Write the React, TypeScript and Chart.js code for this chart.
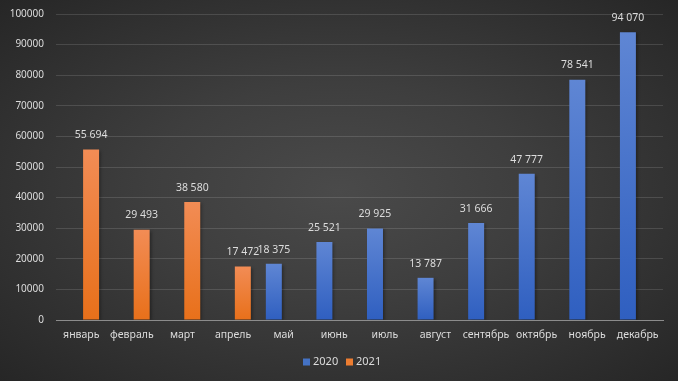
import React, { useEffect, useRef } from "react";
import { Chart, registerables } from "chart.js";

Chart.register(...registerables);

const categories = ["январь", "февраль", "март", "апрель", "май", "июнь", "июль", "август", "сентябрь", "октябрь", "ноябрь", "декабрь"];
const series2020: (number | null)[] = [null, null, null, null, 18375, 25521, 29925, 13787, 31666, 47777, 78541, 94070];
const series2021: (number | null)[] = [55694, 29493, 38580, 17472, null, null, null, null, null, null, null, null];
const yTicks = [0, 10000, 20000, 30000, 40000, 50000, 60000, 70000, 80000, 90000, 100000];

const TEXT = "#dcdcdc";
const FONT = "'Noto Sans', 'DejaVu Sans', sans-serif";

function fmt(v: number) {
  return String(v).replace(/\B(?=(\d{3})+(?!\d))/g, " ");
}

function gradFor(top: string, bottom: string) {
  return (ctx: any) => {
    const chart = ctx.chart;
    const area = chart.chartArea;
    const v = ctx.raw;
    if (!area || v == null) return bottom;
    const ys = chart.scales.y;
    const y1 = ys.getPixelForValue(v);
    const y0 = ys.getPixelForValue(0);
    if (!isFinite(y1) || !isFinite(y0) || y1 === y0) return bottom;
    const g = chart.ctx.createLinearGradient(0, y1, 0, y0);
    g.addColorStop(0, top);
    g.addColorStop(1, bottom);
    return g;
  };
}

const labelsPlugin = {
  id: "valueLabels",
  afterDatasetsDraw(chart: any) {
    const ctx = chart.ctx;
    ctx.save();
    ctx.fillStyle = TEXT;
    ctx.font = `10.5px ${FONT}`;
    ctx.textAlign = "center";
    ctx.textBaseline = "bottom";
    chart.data.datasets.forEach((ds: any, i: number) => {
      const meta = chart.getDatasetMeta(i);
      meta.data.forEach((el: any, j: number) => {
        const v = ds.data[j];
        if (v == null) return;
        ctx.fillText(fmt(v), el.x, el.y - 9);
      });
    });
    ctx.restore();
  },
};

const shadowPlugin = {
  id: "barShadow",
  beforeDatasetsDraw(chart: any) {
    const ctx = chart.ctx;
    ctx.save();
    ctx.shadowColor = "rgba(0,0,0,0.35)";
    ctx.shadowBlur = 3;
    ctx.shadowOffsetX = 2;
    ctx.shadowOffsetY = 1;
  },
  afterDatasetsDraw(chart: any) {
    chart.ctx.restore();
  },
};

const legendPlugin = {
  id: "customLegend",
  afterDraw(chart: any) {
    const ctx = chart.ctx;
    ctx.save();
    ctx.font = `11px ${FONT}`;
    ctx.textBaseline = "middle";
    ctx.textAlign = "left";
    const items = [
      { label: "2020", color: "#4472c4", x: 303 },
      { label: "2021", color: "#ed7d31", x: 346 },
    ];
    const y = 362;
    items.forEach((it) => {
      ctx.fillStyle = it.color;
      ctx.fillRect(it.x, y - 3.5, 7, 7);
      ctx.fillStyle = TEXT;
      ctx.fillText(it.label, it.x + 10, y);
    });
    ctx.restore();
  },
};

export default function App() {
  const ref = useRef<HTMLCanvasElement | null>(null);
  useEffect(() => {
    document.body.style.margin = "0";
    if (!ref.current) return;
    const chart = new Chart(ref.current, {
      type: "bar",
      data: {
        labels: categories,
        datasets: [
          {
            label: "2020",
            data: series2020,
            backgroundColor: gradFor("#5f86d4", "#2f5fc0"),
            barPercentage: 0.816,
            categoryPercentage: 0.775,
          },
          {
            label: "2021",
            data: series2021,
            backgroundColor: gradFor("#f28c55", "#e8701a"),
            barPercentage: 0.816,
            categoryPercentage: 0.775,
          },
        ],
      },
      options: {
        animation: false,
        responsive: false,
        maintainAspectRatio: false,
        layout: { autoPadding: false, padding: { left: 0, right: 15, top: 14, bottom: 0 } },
        plugins: {
          legend: { display: false },
          tooltip: { enabled: false },
        },
        scales: {
          x: {
            grid: { display: false, drawTicks: false },
            border: { display: true, color: "#8c8c8c", width: 1 },
            ticks: { color: TEXT, font: { family: FONT, size: 10.5 }, padding: 9, maxRotation: 0, autoSkip: false },
            afterFit: (s: any) => {
              s.height = 61;
              s.paddingLeft = 0;
              s.paddingRight = 0;
            },
          },
          y: {
            min: 0,
            max: 100000,
            afterBuildTicks: (s: any) => {
              s.ticks = yTicks.map((v) => ({ value: v }));
            },
            grid: { color: "rgba(255,255,255,0.13)", drawTicks: false },
            border: { display: false },
            ticks: { color: TEXT, font: { family: FONT, size: 10 }, padding: 12, callback: (v: any) => String(v) },
            afterFit: (s: any) => {
              s.width = 56;
              s.paddingTop = 0;
              s.paddingBottom = 0;
            },
          },
        },
      },
      plugins: [shadowPlugin, labelsPlugin, legendPlugin],
    });
    return () => chart.destroy();
  }, []);
  return (
    <div
      style={{
        position: "absolute",
        left: 0,
        top: 0,
        width: 678,
        height: 381,
        background: "radial-gradient(ellipse farthest-corner at 50% 50%, #4a4a4a 0%, #3e3e3e 40%, #262626 100%)",
      }}
    >
      <canvas ref={ref} width={678} height={381} style={{ display: "block" }} />
    </div>
  );
}
